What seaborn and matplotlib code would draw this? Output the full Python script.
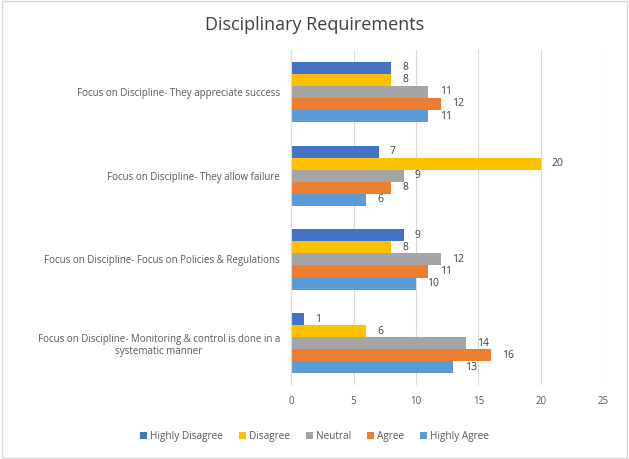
import pandas as pd
import seaborn as sns
import matplotlib.pyplot as plt
from matplotlib.patches import Rectangle

categories = [
    "Focus on Discipline- They appreciate success",
    "Focus on Discipline- They allow failure",
    "Focus on Discipline- Focus on Policies & Regulations",
    "Focus on Discipline- Monitoring & control is done in a\nsystematic manner",
]
responses = ["Highly Disagree", "Disagree", "Neutral", "Agree", "Highly Agree"]
highly_disagree = [8, 7, 9, 1]
disagree = [8, 20, 8, 6]
neutral = [11, 9, 12, 14]
agree = [12, 8, 11, 16]
highly_agree = [11, 6, 10, 13]
colors = ["#4472C4", "#FFC000", "#A5A5A5", "#ED7D31", "#5B9BD5"]

series = [highly_disagree, disagree, neutral, agree, highly_agree]
rows = []
for resp, vals in zip(responses, series):
    for cat, v in zip(categories, vals):
        rows.append({"category": cat, "response": resp, "count": v})
df = pd.DataFrame(rows)

sns.set_style("white")
plt.rcParams['font.family'] = ['Open Sans', 'DejaVu Sans']

fig = plt.figure(figsize=(6.29, 4.59), dpi=100)
ax = fig.add_axes([0.463, 0.161, 0.496, 0.730])

sns.barplot(data=df, y="category", x="count", hue="response",
            order=categories, hue_order=responses, palette=colors,
            orient="h", width=0.72, ax=ax, saturation=1, linewidth=0)

for cont in ax.containers:
    ax.bar_label(cont, padding=8, fontsize=7.5, color="#404040")

ax.set_xlim(0, 25)
ax.set_xticks([0, 5, 10, 15, 20, 25])
ax.grid(axis="x", color="#D9D9D9", linewidth=0.8)
ax.set_axisbelow(True)
for s in ["top", "right", "bottom"]:
    ax.spines[s].set_visible(False)
ax.spines["left"].set_color("#D9D9D9")
ax.tick_params(axis="both", length=0, labelsize=7, colors="#595959", pad=8)
for lbl in ax.get_yticklabels():
    lbl.set_multialignment("center")
ax.set_xlabel("")
ax.set_ylabel("")

handles, labels = ax.get_legend_handles_labels()
ax.legend(handles, labels, loc="center", bbox_to_anchor=(0.5, 0.05),
          bbox_transform=fig.transFigure, frameon=False,
          ncol=5, fontsize=7.2, labelcolor="#595959", handlelength=0.7, handleheight=0.7,
          columnspacing=1.6, handletextpad=0.3)

fig.text(0.5, 0.945, "Disciplinary Requirements", ha="center", va="center",
         fontsize=13, color="#404040")
fig.patches.append(Rectangle((0.003, 0.003), 0.994, 0.994, transform=fig.transFigure,
                             fill=False, edgecolor="#D9D9D9", linewidth=1))

fig.savefig("out.png", dpi=100, facecolor="white")
